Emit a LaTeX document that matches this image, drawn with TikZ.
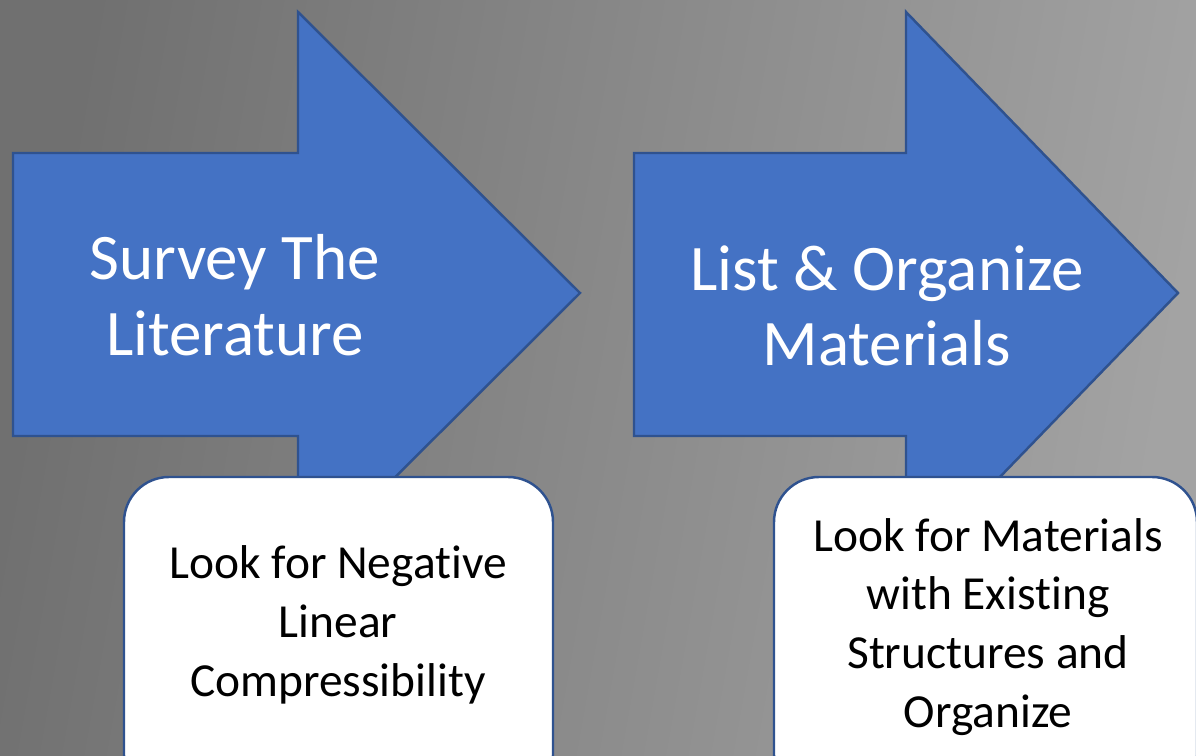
\documentclass[tikz,border=0pt]{standalone}
\usepackage{fontspec}
\setmainfont{Carlito}[RawFeature={-liga;-dlig;-clig;-calt}]
\usepackage{tikz}
\usetikzlibrary{positioning}
\usepackage{xcolor}
\definecolor{Steel}{HTML}{4472C4}
\definecolor{Navy}{HTML}{2F528F}
\definecolor{Slate}{HTML}{707070}
\definecolor{Silver}{HTML}{A3A3A3}

\tikzset{
    steparrow/.style={draw=Navy,line width=1.4pt,fill=Steel,line join=miter},
    steptext/.style={white,align=center,font=\fontsize{37}{43}\selectfont},
    notebox/.style={draw=Navy,line width=1.4pt,fill=white,rounded corners=0.9cm},
    notetext/.style={black,align=center,font=\fontsize{27}{33.5}\selectfont}
}

\begin{document}
\begin{tikzpicture}[x=0.02cm,y=-0.02cm]
    \useasboundingbox (0,0) rectangle (1196,756);
    \clip (0,0) rectangle (1196,756);
    \shade[left color=Slate,right color=Silver,shading angle=80] (0,0) rectangle (1196,756);

    % first step
    \draw[steparrow] (13,153) -- (298,153) -- (298,12) -- (580,293)
        -- (298,574) -- (298,436) -- (13,436) -- cycle;
    \node[steptext] (survey) at (235,295) {Survey The\\Literature};

    % second step
    \draw[steparrow] (634,153) -- (906,153) -- (906,12) -- (1178,293)
        -- (906,574) -- (906,436) -- (634,436) -- cycle;
    \node[steptext] (organize) at (887,306) {List \& Organize\\Materials};

    % notes under the steps
    \draw[notebox] (124,477) rectangle (553,800);
    \node[notetext] (ncl) at (338,625) {Look for Negative\\Linear\\Compressibility};

    \draw[notebox] (774,477) rectangle (1197,800);
    \node[notetext] (existing) at (988,627) {Look for Materials\\with Existing\\Structures and\\Organize};
\end{tikzpicture}
\end{document}
